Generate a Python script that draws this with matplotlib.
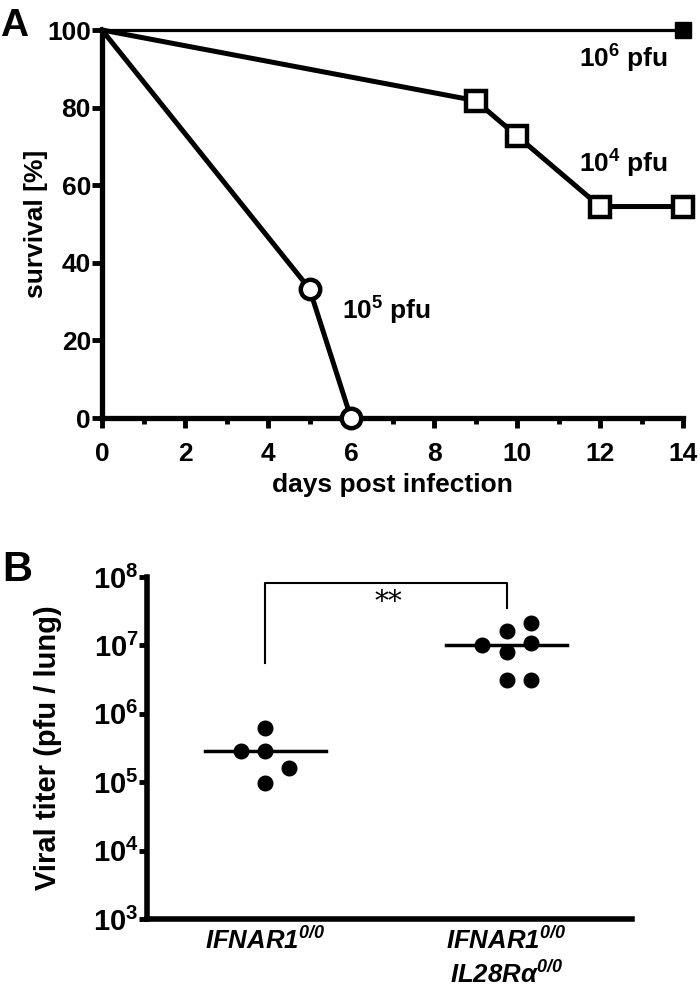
import numpy as np
import matplotlib
matplotlib.use("Agg")
import matplotlib.pyplot as plt
from matplotlib.ticker import FixedLocator, FuncFormatter

plt.rcParams['font.family'] = ['Liberation Sans', 'DejaVu Sans']
plt.rcParams['font.weight'] = 'bold'
plt.rcParams['mathtext.fontset'] = 'custom'
plt.rcParams['mathtext.rm'] = 'Liberation Sans:bold'
plt.rcParams['mathtext.bf'] = 'Liberation Sans:bold'
plt.rcParams['mathtext.it'] = 'Liberation Sans:bold:italic'
plt.rcParams['mathtext.sf'] = 'Liberation Sans:bold:italic'
plt.rcParams['mathtext.default'] = 'rm'

# Panel A: survival curves
days_1e6 = [0, 14]
surv_1e6 = [100, 100]
days_1e4 = [0, 9, 10, 12, 14]
surv_1e4 = [100, 81.8, 72.7, 54.5, 54.5]
days_1e5 = [0, 5, 6]
surv_1e5 = [100, 33.3, 0]

# Panel B: viral titers
groups = [r'$\mathsf{IFNAR1^{0/0}}$',
          r'$\mathsf{IFNAR1^{0/0}}$' + '\n' + r'$\mathsf{IL28R\alpha^{0/0}}$']
titer_ifnar = [6.3e5, 2.9e5, 2.9e5, 1.6e5, 9.7e4]
titer_double = [1.03e7, 1.6e7, 2.1e7, 1.07e7, 7.9e6, 3.1e6, 3.1e6]
jitter_ifnar = [0, -0.1, 0, 0.1, 0]
jitter_double = [-0.1, 0, 0.1, 0.1, 0, 0, 0.1]

fig = plt.figure(figsize=(7, 9.88), dpi=100)

# ---- A ----
axA = fig.add_axes([102/700, 1-418/988, 581/700, 388/988])
axA.plot(days_1e6, surv_1e6, color='black', lw=2.3, clip_on=False)
axA.plot(days_1e6[-1:], surv_1e6[-1:], 's', color='black', ms=12, clip_on=False)
axA.plot(days_1e4, surv_1e4, color='black', lw=3.6, marker='s', ms=14, mfc='white',
         mew=3.2, markevery=[1, 2, 3, 4], clip_on=False, zorder=3)
axA.plot(days_1e5, surv_1e5, color='black', lw=3.6, marker='o', ms=14, mfc='white',
         mew=3.2, markevery=[1, 2], clip_on=False, zorder=3)

axA.set_xlim(0, 14)
axA.set_ylim(0, 100)
axA.spines['top'].set_visible(False)
axA.spines['right'].set_visible(False)
for s in ['left', 'bottom']:
    axA.spines[s].set_linewidth(3.8)
axA.set_xticks(range(0, 15, 2))
axA.xaxis.set_minor_locator(FixedLocator(range(1, 15, 2)))
axA.set_yticks(range(0, 101, 20))
axA.tick_params(axis='both', which='major', width=3.5, length=7, labelsize=19)
axA.tick_params(axis='y', pad=1)
axA.tick_params(axis='x', pad=10)
axA.tick_params(axis='x', which='minor', width=3.5, length=4)
axA.set_xlabel('days post infection', fontsize=19, fontweight='bold', labelpad=5)
axA.set_ylabel('survival [%]', fontsize=19, fontweight='bold', labelpad=-1)

axA.text(13.65, 92.5, r'$10^{6}$ pfu', fontsize=19, ha='right', va='center')
axA.text(13.65, 65.5, r'$10^{4}$ pfu', fontsize=19, ha='right', va='center')
axA.text(5.78, 27.5, r'$10^{5}$ pfu', fontsize=19, ha='left', va='center')

fig.text(0.0, 0.992, 'A', fontsize=28, fontweight='bold', va='top', ha='left')

# ---- B ----
axB = fig.add_axes([147/700, 1-919/988, 485/700, 342/988])
axB.set_yscale('log')
axB.set_ylim(1e3, 1e8)
axB.set_xlim(-0.49, 1.52)

for i, (vals, jit) in enumerate([(titer_ifnar, jitter_ifnar), (titer_double, jitter_double)]):
    xs = [i + j for j in jit]
    axB.plot(xs, vals, 'o', color='black', ms=10.5, zorder=3)
    med = np.median(vals)
    axB.plot([i - 0.25, i + 0.25], [med, med], color='black', lw=2.5, zorder=2)

# significance bracket
axB.plot([0, 0, 1, 1], [5.6e6, 8.1e7, 8.1e7, 3.5e7], color='black', lw=1.5)
axB.text(0.51, 4.2e7, '**', fontsize=20, ha='center', va='center',
         fontweight='normal', family='DejaVu Serif')

axB.spines['top'].set_visible(False)
axB.spines['right'].set_visible(False)
for s in ['left', 'bottom']:
    axB.spines[s].set_linewidth(4)
axB.yaxis.set_major_locator(FixedLocator([1e3, 1e4, 1e5, 1e6, 1e7, 1e8]))
axB.yaxis.set_minor_locator(FixedLocator([]))
axB.yaxis.set_major_formatter(FuncFormatter(lambda v, p: r'$10^{%d}$' % round(np.log10(v))))
axB.tick_params(axis='y', width=3.5, length=6, labelsize=21, pad=0)
axB.set_xticks([0, 1])
axB.set_xticklabels(groups, fontsize=18.5, linespacing=1.3)
axB.tick_params(axis='x', length=0, pad=6)
axB.set_ylabel('Viral titer (pfu / lung)', fontsize=21, fontweight='bold', labelpad=22)

fig.text(0.003, 0.443, 'B', fontsize=30, fontweight='bold', va='top', ha='left')

fig.savefig('out.png', dpi=100)
